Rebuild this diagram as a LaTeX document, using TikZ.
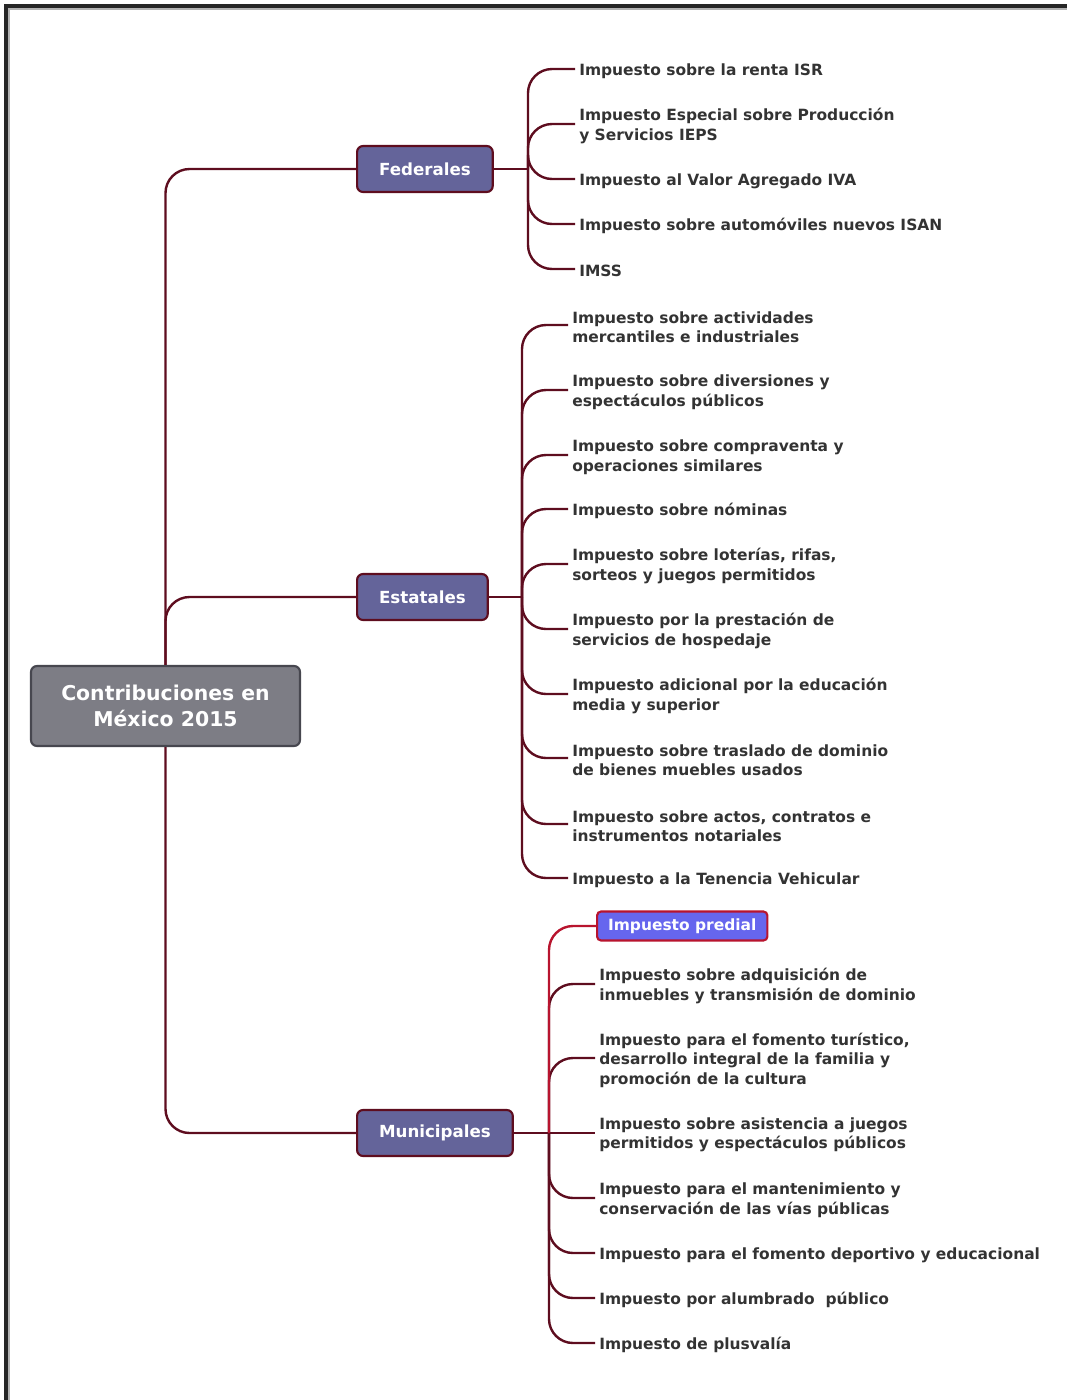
\documentclass[tikz,border=0pt]{standalone}
\usepackage{fontspec}
\setmainfont{DejaVu Sans}
\definecolor{linkred}{HTML}{5E0D1F}
\definecolor{hotred}{HTML}{B8142E}
\definecolor{textgray}{HTML}{333333}
\definecolor{branchfill}{HTML}{64649A}
\definecolor{rootfill}{HTML}{7D7D85}
\definecolor{rootdraw}{HTML}{47474F}
\definecolor{predfill}{HTML}{6666EE}
\tikzset{>=stealth,
  link/.style={draw=linkred, line width=1.8pt, rounded corners=18pt},
  root/.style={draw=rootdraw, fill=rootfill, line width=1.6pt, rounded corners=4.5pt, text=white, align=center,
    minimum width=201.75pt, minimum height=60pt, font=\fontsize{15.3}{19.5}\selectfont\bfseries},
  branch/.style={draw=linkred, fill=branchfill, line width=1.6pt, rounded corners=4.5pt, text=white, anchor=west,
    inner xsep=16.5pt, minimum height=34.5pt, font=\fontsize{12.5}{15}\selectfont\bfseries},
  leaf/.style={anchor=west, align=left, text=textgray, inner xsep=3pt, inner ysep=0pt, yshift=-1.5pt,
    font=\fontsize{11.6}{14.6}\selectfont\bfseries},
  hot/.style={draw=hotred, fill=predfill, line width=1.6pt, rounded corners=3pt, text=white, anchor=west,
    inner xsep=8.25pt, minimum height=21.75pt, font=\fontsize{11.6}{14.6}\selectfont\bfseries}
}
\begin{document}
\begin{tikzpicture}[x=0.75pt, y=-0.75pt]
\useasboundingbox (0,0) rectangle (1067,1400);
\draw[gray!60, line width=1.5pt] (8.5,1400) -- (8.5,8.5) -- (1067,8.5);
\draw[black!85, line width=2.4pt] (6,1400) -- (6,6) -- (1067,6);

\node[root] (C) at (165.5,706) {Contribuciones en\\México 2015};
\node[branch] (F) at (356,169) {Federales};
\node[branch] (E) at (356,597) {Estatales};
\node[branch] (M) at (356,1133) {Municipales};

\draw[link] (C.north) |- (F.west);
\draw[link] (C.north) |- (E.west);
\draw[link] (C.south) |- (M.west);

\coordinate (FB) at (528,169);
\node[leaf] (F1) at (575,69) {Impuesto sobre la renta ISR};
\node[leaf] (F2) at (575,124) {Impuesto Especial sobre Producción\\y Servicios IEPS};
\node[leaf] (F3) at (575,179) {Impuesto al Valor Agregado IVA};
\node[leaf] (F4) at (575,224) {Impuesto sobre automóviles nuevos ISAN};
\node[leaf] (F5) at (575,269) {IMSS};
\draw[link] (F.east) -- (FB);
\foreach \n in {F1,F2,F3,F4,F5}
\draw[link] (FB) |- ([yshift=1.5pt]\n.west);

\coordinate (EB) at (522,597);
\node[leaf] (E1) at (568,325) {Impuesto sobre actividades\\mercantiles e industriales};
\node[leaf] (E2) at (568,390) {Impuesto sobre diversiones y\\espectáculos públicos};
\node[leaf] (E3) at (568,455) {Impuesto sobre compraventa y\\operaciones similares};
\node[leaf] (E4) at (568,509) {Impuesto sobre nóminas};
\node[leaf] (E5) at (568,564) {Impuesto sobre loterías, rifas,\\sorteos y juegos permitidos};
\node[leaf] (E6) at (568,629) {Impuesto por la prestación de\\servicios de hospedaje};
\node[leaf] (E7) at (568,694) {Impuesto adicional por la educación\\media y superior};
\node[leaf] (E8) at (568,758) {Impuesto sobre traslado de dominio\\de bienes muebles usados};
\node[leaf] (E9) at (568,824) {Impuesto sobre actos, contratos e\\instrumentos notariales};
\node[leaf] (E10) at (568,878) {Impuesto a la Tenencia Vehicular};
\draw[link] (E.east) -- (EB);
\foreach \n in {E1,E2,E3,E4,E5,E6,E7,E8,E9,E10}
\draw[link] (EB) |- ([yshift=1.5pt]\n.west);

\coordinate (MB) at (549,1133);
\node[hot] (M1) at (596,926) {Impuesto predial};
\node[leaf] (M2) at (595,984) {Impuesto sobre adquisición de\\inmuebles y transmisión de dominio};
\node[leaf] (M3) at (595,1058) {Impuesto para el fomento turístico,\\desarrollo integral de la familia y\\promoción de la cultura};
\node[leaf] (M4) at (595,1133) {Impuesto sobre asistencia a juegos\\permitidos y espectáculos públicos};
\node[leaf] (M5) at (595,1198) {Impuesto para el mantenimiento y\\conservación de las vías públicas};
\node[leaf] (M6) at (595,1253) {Impuesto para el fomento deportivo y educacional};
\node[leaf] (M7) at (595,1298) {Impuesto por alumbrado\ \ público};
\node[leaf] (M8) at (595,1343) {Impuesto de plusvalía};
\draw[link] (M.east) -- ([yshift=1.5pt]M4.west);
\foreach \n in {M2,M3,M5,M6,M7,M8}
\draw[link] (MB) |- ([yshift=1.5pt]\n.west);
\draw[link, draw=hotred] (MB) |- (M1.west);
\end{tikzpicture}
\end{document}
